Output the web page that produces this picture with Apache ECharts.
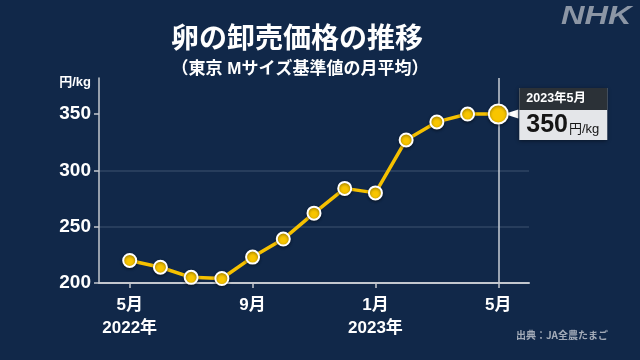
<!DOCTYPE html>
<html><head><meta charset="utf-8">
<script src="https://cdn.jsdelivr.net/npm/echarts@6/dist/echarts.min.js"></script>
<style>html,body{margin:0;padding:0;background:#112849}#c{width:640px;height:360px}</style>
</head><body><div id="c"></div>
<script>
// ---- data ----
const monthKeys = ['2022-05','2022-06','2022-07','2022-08','2022-09','2022-10','2022-11','2022-12','2023-01','2023-02','2023-03','2023-04','2023-05'];
const monthLabels = ['5月','6月','7月','8月','9月','10月','11月','12月','1月','2月','3月','4月','5月'];
const yearLabels = ['2022年','','','','','','','','2023年','','','',''];
const prices = [220,214,205,204,223,239,262,284,280,327,343,350,350];
const labeledMonths = [0,4,8,12];
const yTickValues = [200,250,300,350];
const calloutTitle = '2023年5月';
const calloutUnit = '円/kg';
const titleText = '卵の卸売価格の推移';
const subtitleText = '（東京 Mサイズ基準値の月平均）';
const sourceText = '出典：JA全農たまご';
const yUnit = '円/kg';

// ---- build ----
const cats = ['pad-start', ...monthKeys, 'pad-end'];
const lastIdx = prices.length - 1;
const FONT = '"Liberation Sans","Noto Sans CJK JP",sans-serif';
const showIdx = (i) => labeledMonths.indexOf(i - 1) >= 0;

const seriesData = [null];
prices.forEach((v, i) => {
  if (i === lastIdx) {
    seriesData.push({
      value: v,
      symbolSize: 19,
      label: {
        show: true,
        position: 'right',
        distance: 10.5,
        padding: 0,
        backgroundColor: '#e4e6e9',
        shadowColor: 'rgba(0,0,0,0.45)',
        shadowBlur: 4,
        shadowOffsetY: 1,
        formatter: '{h|' + calloutTitle + '}\n{v|' + v + '}{u|' + calloutUnit + '}',
        rich: {
          h: {backgroundColor: '#2b3137', color: '#fff', fontSize: 12.5, fontWeight: 'bold',
              fontFamily: FONT, width: 81, height: 22, lineHeight: 22, padding: [0, 0, 0, 7]},
          v: {color: '#151515', fontSize: 25, fontWeight: 'bold', fontFamily: FONT,
              height: 30, lineHeight: 30, padding: [0, 0, 0, 7]},
          u: {color: '#151515', fontSize: 13, fontFamily: FONT, lineHeight: 30, height: 30,
              padding: [8, 0, 0, 1]}
        }
      }
    });
  } else {
    seriesData.push(v);
  }
});
seriesData.push(null);

const chart = echarts.init(document.getElementById('c'), null, {renderer: 'canvas'});
chart.setOption({
  backgroundColor: '#112849',
  animation: false,
  title: [
    {text: titleText, left: 297, top: 26, textAlign: 'center', padding: 0,
     textStyle: {color: '#fff', fontSize: 28, fontWeight: 'bold', fontFamily: FONT}},
    {text: subtitleText, left: 300, top: 61, textAlign: 'center', padding: 0,
     textStyle: {color: '#fff', fontSize: 17, fontWeight: 'bold', fontFamily: FONT}}
  ],
  grid: {left: 99, right: 111, top: 78, bottom: 77, containLabel: false},
  xAxis: {
    type: 'category',
    data: cats,
    boundaryGap: false,
    axisLine: {lineStyle: {color: '#c3c7ce', width: 2}},
    axisTick: {show: true, length: 5, interval: (i) => showIdx(i), lineStyle: {color: '#c3c7ce', width: 1.5}},
    axisLabel: {
      interval: (i) => showIdx(i),
      margin: 11,
      color: '#fff', fontSize: 17, fontWeight: 'bold', fontFamily: FONT, lineHeight: 23,
      formatter: (val, i) => {
        const k = i - 1;
        if (k < 0 || k > lastIdx) return '';
        return yearLabels[k] ? monthLabels[k] + '\n' + yearLabels[k] : monthLabels[k];
      }
    },
    splitLine: {show: false}
  },
  yAxis: {
    type: 'value',
    min: 200, max: 382, interval: 50,
    name: yUnit,
    nameLocation: 'end',
    nameGap: -4,
    nameTextStyle: {color: '#fff', fontSize: 13, fontWeight: 'bold', fontFamily: FONT,
                    align: 'right', verticalAlign: 'middle', padding: [0, 8, 0, 0]},
    axisLine: {show: true, lineStyle: {color: '#c3c7ce', width: 1.5}},
    axisTick: {show: true, length: 5, customValues: yTickValues, lineStyle: {color: '#c3c7ce', width: 1.5}},
    axisLabel: {
      customValues: yTickValues,
      margin: 8, color: '#fff', fontSize: 19, fontWeight: 'bold', fontFamily: FONT,
      formatter: (v) => (yTickValues.indexOf(v) >= 0 ? String(v) : '')
    },
    splitLine: {show: true, showMinLine: false, showMaxLine: false, lineStyle: {color: '#2f4463', width: 1.5}}
  },
  series: [{
    type: 'line',
    data: seriesData,
    connectNulls: false,
    symbol: 'circle',
    symbolSize: 13,
    z: 5,
    lineStyle: {color: '#f6c100', width: 3.5},
    itemStyle: {color: '#f8c500', borderColor: '#fff', borderWidth: 2,
                shadowColor: 'rgba(0,0,0,0.45)', shadowBlur: 3, shadowOffsetY: 1},
    label: {show: false},
    emphasis: {disabled: true},
    markLine: {
      silent: true, symbol: 'none', label: {show: false}, z: 1,
      lineStyle: {color: '#c9ced6', width: 1.5, type: 'solid'},
      data: [{xAxis: lastIdx + 1}]
    },
    markPoint: {
      silent: true,
      label: {show: false},
      data: [{coord: [lastIdx + 1, prices[lastIdx]], symbol: 'triangle', symbolSize: [9, 14],
              symbolRotate: 90, symbolOffset: [13, 0], itemStyle: {color: '#fff'}}]
    }
  }],
  graphic: [
    {type: 'text', left: 561, top: 5, scaleX: 1.3,
     style: {text: 'NHK', fill: '#8c96a5', font: 'italic bold 25px "Liberation Sans", sans-serif'}},
    {type: 'text', right: 32, top: 330,
     style: {text: sourceText, fill: '#a3abb8', font: 'bold 10px "Noto Sans CJK JP", sans-serif'}}
  ]
});
</script></body></html>
